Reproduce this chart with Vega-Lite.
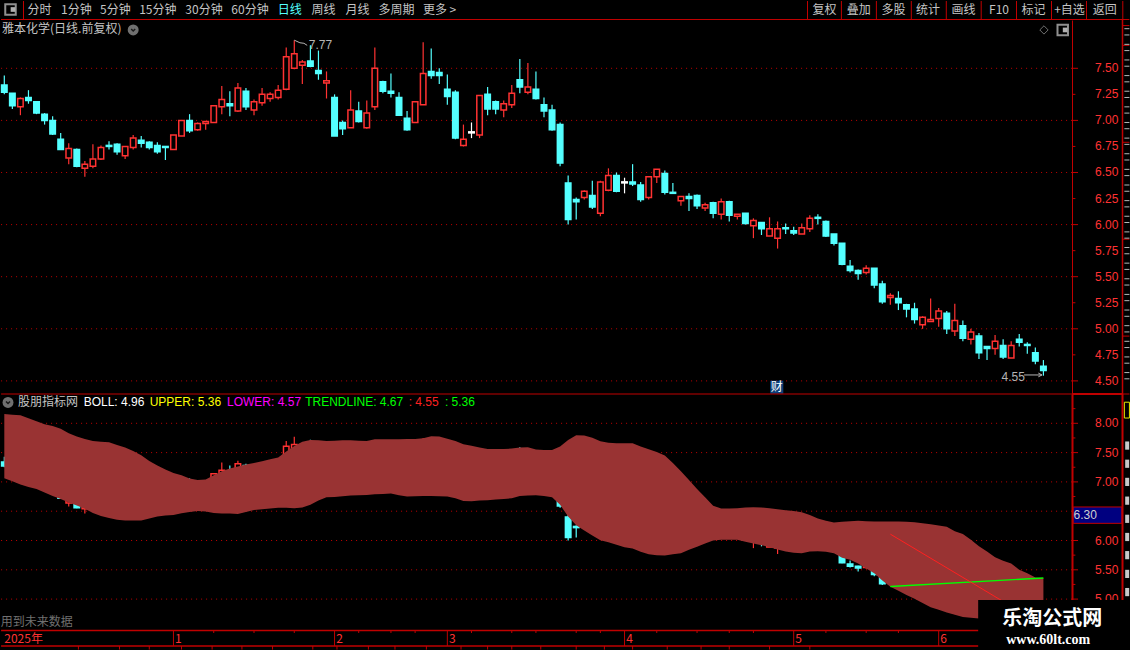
{
  "$schema": "https://vega.github.io/schema/vega-lite/v6.json",
  "background": "#000000",
  "padding": 0,
  "spacing": 0,
  "bounds": "flush",
  "resolve": {"scale": {"color": "independent"}},
  "config": {"view": {"stroke": null}, "font": "Liberation Sans", "concat": {"spacing": 0}},
  "datasets": {
    "candles": [
      {"i":0,"o":7.34,"c":7.27,"h":7.43,"l":7.25,"k":"down"},{"i":1,"o":7.26,"c":7.14,"h":7.26,"l":7.11,"k":"down"},{"i":2,"o":7.13,"c":7.21,"h":7.22,"l":7.05,"k":"up"},{"i":3,"o":7.22,"c":7.19,"h":7.29,"l":7.16,"k":"down"},{"i":4,"o":7.18,"c":7.07,"h":7.18,"l":7.06,"k":"down"},
      {"i":5,"o":7.06,"c":7.0,"h":7.07,"l":6.96,"k":"down"},{"i":6,"o":7.0,"c":6.87,"h":7.04,"l":6.86,"k":"down"},{"i":7,"o":6.82,"c":6.72,"h":6.88,"l":6.72,"k":"down"},{"i":8,"o":6.64,"c":6.73,"h":6.78,"l":6.58,"k":"up"},{"i":9,"o":6.72,"c":6.56,"h":6.73,"l":6.55,"k":"down"},
      {"i":10,"o":6.54,"c":6.58,"h":6.61,"l":6.46,"k":"up"},{"i":11,"o":6.56,"c":6.63,"h":6.77,"l":6.54,"k":"up"},{"i":12,"o":6.63,"c":6.74,"h":6.76,"l":6.62,"k":"up"},{"i":13,"o":6.76,"c":6.75,"h":6.8,"l":6.72,"k":"down"},{"i":14,"o":6.77,"c":6.7,"h":6.78,"l":6.67,"k":"down"},
      {"i":15,"o":6.66,"c":6.75,"h":6.75,"l":6.63,"k":"up"},{"i":16,"o":6.74,"c":6.83,"h":6.86,"l":6.72,"k":"up"},{"i":17,"o":6.81,"c":6.78,"h":6.85,"l":6.74,"k":"down"},{"i":18,"o":6.79,"c":6.74,"h":6.8,"l":6.72,"k":"down"},{"i":19,"o":6.76,"c":6.7,"h":6.79,"l":6.68,"k":"down"},
      {"i":20,"o":6.75,"c":6.74,"h":6.75,"l":6.62,"k":"down"},{"i":21,"o":6.72,"c":6.86,"h":6.86,"l":6.72,"k":"up"},{"i":22,"o":6.85,"c":7.0,"h":7.0,"l":6.85,"k":"up"},{"i":23,"o":7.0,"c":6.9,"h":7.06,"l":6.88,"k":"down"},{"i":24,"o":6.91,"c":6.97,"h":6.98,"l":6.9,"k":"up"},
      {"i":25,"o":6.97,"c":6.99,"h":6.99,"l":6.91,"k":"up"},{"i":26,"o":6.98,"c":7.14,"h":7.14,"l":6.98,"k":"up"},{"i":27,"o":7.13,"c":7.2,"h":7.33,"l":7.06,"k":"up"},{"i":28,"o":7.16,"c":7.14,"h":7.28,"l":7.04,"k":"down"},{"i":29,"o":7.09,"c":7.31,"h":7.36,"l":7.08,"k":"up"},
      {"i":30,"o":7.28,"c":7.13,"h":7.31,"l":7.1,"k":"down"},{"i":31,"o":7.1,"c":7.18,"h":7.2,"l":7.05,"k":"up"},{"i":32,"o":7.17,"c":7.25,"h":7.31,"l":7.14,"k":"up"},{"i":33,"o":7.21,"c":7.25,"h":7.27,"l":7.18,"k":"up"},{"i":34,"o":7.22,"c":7.29,"h":7.34,"l":7.2,"k":"up"},
      {"i":35,"o":7.3,"c":7.61,"h":7.7,"l":7.29,"k":"up"},{"i":36,"o":7.5,"c":7.64,"h":7.77,"l":7.49,"k":"up"},{"i":37,"o":7.53,"c":7.56,"h":7.58,"l":7.35,"k":"up"},{"i":38,"o":7.57,"c":7.52,"h":7.72,"l":7.51,"k":"down"},{"i":39,"o":7.48,"c":7.45,"h":7.67,"l":7.39,"k":"down"},
      {"i":40,"o":7.36,"c":7.38,"h":7.47,"l":7.21,"k":"up"},{"i":41,"o":7.22,"c":6.85,"h":7.25,"l":6.85,"k":"down"},{"i":42,"o":6.98,"c":6.92,"h":7.0,"l":6.86,"k":"down"},{"i":43,"o":6.93,"c":7.1,"h":7.29,"l":6.93,"k":"up"},{"i":44,"o":7.09,"c":6.99,"h":7.18,"l":6.98,"k":"down"},
      {"i":45,"o":6.93,"c":7.07,"h":7.19,"l":6.92,"k":"up"},{"i":46,"o":7.13,"c":7.5,"h":7.7,"l":7.1,"k":"up"},{"i":47,"o":7.37,"c":7.28,"h":7.38,"l":7.26,"k":"down"},{"i":48,"o":7.28,"c":7.26,"h":7.45,"l":7.22,"k":"down"},{"i":49,"o":7.22,"c":7.05,"h":7.27,"l":7.05,"k":"down"},
      {"i":50,"o":7.02,"c":6.91,"h":7.09,"l":6.9,"k":"down"},{"i":51,"o":6.98,"c":7.18,"h":7.18,"l":6.98,"k":"up"},{"i":52,"o":7.15,"c":7.45,"h":7.75,"l":7.15,"k":"up"},{"i":53,"o":7.47,"c":7.43,"h":7.69,"l":7.4,"k":"down"},{"i":54,"o":7.46,"c":7.43,"h":7.5,"l":7.35,"k":"down"},
      {"i":55,"o":7.3,"c":7.23,"h":7.44,"l":7.15,"k":"down"},{"i":56,"o":7.27,"c":6.83,"h":7.29,"l":6.82,"k":"down"},{"i":57,"o":6.76,"c":6.82,"h":6.96,"l":6.75,"k":"up"},{"i":58,"o":6.89,"c":6.88,"h":6.98,"l":6.83,"k":"flat"},{"i":59,"o":6.86,"c":7.24,"h":7.24,"l":6.83,"k":"up"},
      {"i":60,"o":7.25,"c":7.11,"h":7.32,"l":7.05,"k":"down"},{"i":61,"o":7.18,"c":7.11,"h":7.19,"l":7.06,"k":"down"},{"i":62,"o":7.1,"c":7.16,"h":7.19,"l":7.03,"k":"up"},{"i":63,"o":7.15,"c":7.26,"h":7.34,"l":7.12,"k":"up"},{"i":64,"o":7.39,"c":7.32,"h":7.59,"l":7.26,"k":"down"},
      {"i":65,"o":7.27,"c":7.32,"h":7.55,"l":7.25,"k":"up"},{"i":66,"o":7.3,"c":7.21,"h":7.47,"l":7.2,"k":"down"},{"i":67,"o":7.15,"c":7.09,"h":7.22,"l":7.03,"k":"down"},{"i":68,"o":7.1,"c":6.91,"h":7.15,"l":6.9,"k":"down"},{"i":69,"o":6.96,"c":6.59,"h":6.98,"l":6.56,"k":"down"},
      {"i":70,"o":6.4,"c":6.05,"h":6.47,"l":6.0,"k":"down"},{"i":71,"o":6.24,"c":6.22,"h":6.26,"l":6.05,"k":"down"},{"i":72,"o":6.26,"c":6.32,"h":6.33,"l":6.24,"k":"up"},{"i":73,"o":6.28,"c":6.17,"h":6.42,"l":6.15,"k":"down"},{"i":74,"o":6.11,"c":6.41,"h":6.42,"l":6.08,"k":"up"},
      {"i":75,"o":6.33,"c":6.47,"h":6.54,"l":6.32,"k":"up"},{"i":76,"o":6.47,"c":6.32,"h":6.5,"l":6.31,"k":"down"},{"i":77,"o":6.41,"c":6.4,"h":6.45,"l":6.3,"k":"flat"},{"i":78,"o":6.41,"c":6.39,"h":6.58,"l":6.37,"k":"down"},{"i":79,"o":6.38,"c":6.24,"h":6.41,"l":6.22,"k":"down"},
      {"i":80,"o":6.26,"c":6.46,"h":6.46,"l":6.24,"k":"up"},{"i":81,"o":6.46,"c":6.53,"h":6.53,"l":6.4,"k":"up"},{"i":82,"o":6.49,"c":6.31,"h":6.52,"l":6.29,"k":"down"},{"i":83,"o":6.31,"c":6.3,"h":6.4,"l":6.3,"k":"down"},{"i":84,"o":6.23,"c":6.27,"h":6.27,"l":6.18,"k":"up"},
      {"i":85,"o":6.27,"c":6.25,"h":6.3,"l":6.13,"k":"down"},{"i":86,"o":6.28,"c":6.18,"h":6.29,"l":6.15,"k":"down"},{"i":87,"o":6.16,"c":6.19,"h":6.21,"l":6.13,"k":"up"},{"i":88,"o":6.21,"c":6.11,"h":6.22,"l":6.06,"k":"down"},{"i":89,"o":6.1,"c":6.22,"h":6.25,"l":6.05,"k":"up"},
      {"i":90,"o":6.22,"c":6.09,"h":6.23,"l":6.03,"k":"down"},{"i":91,"o":6.08,"c":6.1,"h":6.1,"l":6.05,"k":"up"},{"i":92,"o":6.11,"c":6.01,"h":6.11,"l":6.0,"k":"down"},{"i":93,"o":5.99,"c":6.04,"h":6.06,"l":5.87,"k":"up"},{"i":94,"o":6.02,"c":5.96,"h":6.02,"l":5.9,"k":"down"},
      {"i":95,"o":5.89,"c":5.96,"h":6.07,"l":5.89,"k":"up"},{"i":96,"o":5.87,"c":5.96,"h":6.03,"l":5.77,"k":"up"},{"i":97,"o":5.97,"c":5.96,"h":6.01,"l":5.91,"k":"down"},{"i":98,"o":5.94,"c":5.92,"h":5.98,"l":5.9,"k":"down"},{"i":99,"o":5.91,"c":5.97,"h":6.01,"l":5.91,"k":"up"},
      {"i":100,"o":5.96,"c":6.06,"h":6.09,"l":5.93,"k":"up"},{"i":101,"o":6.07,"c":6.06,"h":6.1,"l":6.0,"k":"down"},{"i":102,"o":6.03,"c":5.89,"h":6.04,"l":5.88,"k":"down"},{"i":103,"o":5.91,"c":5.82,"h":5.91,"l":5.8,"k":"down"},{"i":104,"o":5.82,"c":5.62,"h":5.82,"l":5.61,"k":"down"},
      {"i":105,"o":5.6,"c":5.56,"h":5.66,"l":5.54,"k":"down"},{"i":106,"o":5.56,"c":5.53,"h":5.57,"l":5.47,"k":"down"},{"i":107,"o":5.54,"c":5.58,"h":5.61,"l":5.52,"k":"up"},{"i":108,"o":5.58,"c":5.42,"h":5.58,"l":5.39,"k":"down"},{"i":109,"o":5.43,"c":5.26,"h":5.46,"l":5.24,"k":"down"},
      {"i":110,"o":5.3,"c":5.32,"h":5.34,"l":5.23,"k":"up"},{"i":111,"o":5.29,"c":5.25,"h":5.36,"l":5.18,"k":"down"},{"i":112,"o":5.23,"c":5.19,"h":5.24,"l":5.11,"k":"down"},{"i":113,"o":5.19,"c":5.09,"h":5.25,"l":5.05,"k":"down"},{"i":114,"o":5.04,"c":5.11,"h":5.12,"l":5.0,"k":"up"},
      {"i":115,"o":5.07,"c":5.09,"h":5.29,"l":5.07,"k":"up"},{"i":116,"o":5.1,"c":5.17,"h":5.2,"l":5.02,"k":"up"},{"i":117,"o":5.15,"c":5.0,"h":5.17,"l":4.95,"k":"down"},{"i":118,"o":4.98,"c":5.08,"h":5.24,"l":4.93,"k":"up"},{"i":119,"o":5.03,"c":4.91,"h":5.08,"l":4.88,"k":"down"},
      {"i":120,"o":4.9,"c":4.97,"h":5.0,"l":4.85,"k":"up"},{"i":121,"o":4.93,"c":4.77,"h":4.96,"l":4.71,"k":"down"},{"i":122,"o":4.83,"c":4.81,"h":4.83,"l":4.7,"k":"down"},{"i":123,"o":4.81,"c":4.88,"h":4.94,"l":4.75,"k":"up"},{"i":124,"o":4.84,"c":4.73,"h":4.9,"l":4.71,"k":"down"},
      {"i":125,"o":4.72,"c":4.84,"h":4.88,"l":4.72,"k":"up"},{"i":126,"o":4.9,"c":4.87,"h":4.95,"l":4.83,"k":"down"},{"i":127,"o":4.85,"c":4.84,"h":4.87,"l":4.76,"k":"down"},{"i":128,"o":4.77,"c":4.69,"h":4.82,"l":4.66,"k":"down"},{"i":129,"o":4.64,"c":4.6,"h":4.7,"l":4.55,"k":"down"}
    ],
    "boll": [
      {"i":0,"u":8.159,"d":7.062},{"i":1,"u":8.148,"d":7.011},{"i":2,"u":8.136,"d":6.954},{"i":3,"u":8.085,"d":6.915},{"i":4,"u":8.034,"d":6.88},{"i":5,"u":7.983,"d":6.818},{"i":6,"u":7.954,"d":6.761},{"i":7,"u":7.909,"d":6.71},{"i":8,"u":7.83,"d":6.648},{"i":9,"u":7.773,"d":6.596},
      {"i":10,"u":7.733,"d":6.54},{"i":11,"u":7.699,"d":6.471},{"i":12,"u":7.687,"d":6.42},{"i":13,"u":7.676,"d":6.386},{"i":14,"u":7.63,"d":6.352},{"i":15,"u":7.585,"d":6.341},{"i":16,"u":7.528,"d":6.341},{"i":17,"u":7.454,"d":6.341},{"i":18,"u":7.358,"d":6.375},{"i":19,"u":7.278,"d":6.409},
      {"i":20,"u":7.21,"d":6.426},{"i":21,"u":7.153,"d":6.437},{"i":22,"u":7.113,"d":6.466},{"i":23,"u":7.057,"d":6.488},{"i":24,"u":7.034,"d":6.505},{"i":25,"u":7.04,"d":6.494},{"i":26,"u":7.113,"d":6.471},{"i":27,"u":7.182,"d":6.46},{"i":28,"u":7.227,"d":6.46},{"i":29,"u":7.261,"d":6.454},
      {"i":30,"u":7.295,"d":6.488},{"i":31,"u":7.324,"d":6.522},{"i":32,"u":7.352,"d":6.534},{"i":33,"u":7.386,"d":6.545},{"i":34,"u":7.415,"d":6.557},{"i":35,"u":7.517,"d":6.557},{"i":36,"u":7.613,"d":6.551},{"i":37,"u":7.687,"d":6.562},{"i":38,"u":7.716,"d":6.608},{"i":39,"u":7.71,"d":6.682},
      {"i":40,"u":7.699,"d":6.738},{"i":41,"u":7.704,"d":6.744},{"i":42,"u":7.71,"d":6.755},{"i":43,"u":7.71,"d":6.767},{"i":44,"u":7.704,"d":6.772},{"i":45,"u":7.699,"d":6.778},{"i":46,"u":7.727,"d":6.79},{"i":47,"u":7.727,"d":6.795},{"i":48,"u":7.727,"d":6.801},{"i":49,"u":7.727,"d":6.772},
      {"i":50,"u":7.733,"d":6.75},{"i":51,"u":7.733,"d":6.755},{"i":52,"u":7.744,"d":6.761},{"i":53,"u":7.778,"d":6.761},{"i":54,"u":7.773,"d":6.755},{"i":55,"u":7.738,"d":6.75},{"i":56,"u":7.699,"d":6.721},{"i":57,"u":7.642,"d":6.676},{"i":58,"u":7.619,"d":6.67},{"i":59,"u":7.585,"d":6.682},
      {"i":60,"u":7.562,"d":6.687},{"i":61,"u":7.562,"d":6.699},{"i":62,"u":7.562,"d":6.71},{"i":63,"u":7.568,"d":6.721},{"i":64,"u":7.585,"d":6.761},{"i":65,"u":7.591,"d":6.767},{"i":66,"u":7.551,"d":6.772},{"i":67,"u":7.545,"d":6.761},{"i":68,"u":7.545,"d":6.738},{"i":69,"u":7.602,"d":6.608},
      {"i":70,"u":7.716,"d":6.409},{"i":71,"u":7.795,"d":6.261},{"i":72,"u":7.79,"d":6.17},{"i":73,"u":7.755,"d":6.085},{"i":74,"u":7.693,"d":6.005},{"i":75,"u":7.67,"d":5.971},{"i":76,"u":7.659,"d":5.926},{"i":77,"u":7.659,"d":5.886},{"i":78,"u":7.659,"d":5.863},{"i":79,"u":7.602,"d":5.807},
      {"i":80,"u":7.557,"d":5.767},{"i":81,"u":7.511,"d":5.75},{"i":82,"u":7.449,"d":5.744},{"i":83,"u":7.324,"d":5.767},{"i":84,"u":7.182,"d":5.784},{"i":85,"u":7.034,"d":5.841},{"i":86,"u":6.88,"d":5.892},{"i":87,"u":6.738,"d":5.949},{"i":88,"u":6.591,"d":6.0},{"i":89,"u":6.545,"d":6.011},
      {"i":90,"u":6.545,"d":6.011},{"i":91,"u":6.551,"d":6.011},{"i":92,"u":6.562,"d":5.977},{"i":93,"u":6.568,"d":5.949},{"i":94,"u":6.562,"d":5.92},{"i":95,"u":6.551,"d":5.886},{"i":96,"u":6.534,"d":5.846},{"i":97,"u":6.517,"d":5.812},{"i":98,"u":6.505,"d":5.789},{"i":99,"u":6.483,"d":5.784},
      {"i":100,"u":6.437,"d":5.812},{"i":101,"u":6.375,"d":5.818},{"i":102,"u":6.335,"d":5.807},{"i":103,"u":6.307,"d":5.784},{"i":104,"u":6.318,"d":5.704},{"i":105,"u":6.33,"d":5.67},{"i":106,"u":6.335,"d":5.608},{"i":107,"u":6.33,"d":5.522},{"i":108,"u":6.324,"d":5.443},{"i":109,"u":6.324,"d":5.318},
      {"i":110,"u":6.324,"d":5.21},{"i":111,"u":6.324,"d":5.142},{"i":112,"u":6.318,"d":5.068},{"i":113,"u":6.312,"d":5.005},{"i":114,"u":6.295,"d":4.932},{"i":115,"u":6.278,"d":4.863},{"i":116,"u":6.255,"d":4.818},{"i":117,"u":6.233,"d":4.772},{"i":118,"u":6.159,"d":4.733},{"i":119,"u":6.113,"d":4.693},
      {"i":120,"u":6.011,"d":4.682},{"i":121,"u":5.903,"d":4.67},{"i":122,"u":5.812,"d":4.648},{"i":123,"u":5.716,"d":4.625},{"i":124,"u":5.653,"d":4.608},{"i":125,"u":5.608,"d":4.596},{"i":126,"u":5.5,"d":4.591},{"i":127,"u":5.443,"d":4.585},{"i":128,"u":5.369,"d":4.574},{"i":129,"u":5.358,"d":4.568}
    ],
    "trend": [
      {"i":110,"up":5.215,"down":6.108},
      {"i":129,"up":5.36,"down":4.55}
    ],
    "legend": [
      {"i":9.85,"t":"BOLL: 4.96","s":"boll"},
      {"i":18.05,"t":"UPPER: 5.36","s":"upper"},
      {"i":27.65,"t":"LOWER: 4.57","s":"lower"},
      {"i":37.35,"t":"TRENDLINE: 4.67","s":"trend"},
      {"i":50.2,"t":": 4.55","s":"low"},
      {"i":54.7,"t":": 5.36","s":"trend"}
    ],
    "gridTop": [
      {"i":-0.4,"i2":132.55,"p":7.5},{"i":-0.4,"i2":132.55,"p":7.0},{"i":-0.4,"i2":132.55,"p":6.5},{"i":-0.4,"i2":132.55,"p":6.0},{"i":-0.4,"i2":132.55,"p":5.5},{"i":-0.4,"i2":132.55,"p":5.0},{"i":-0.4,"i2":132.55,"p":4.5}
    ],
    "ticksTop": [
      {"i":132.55,"i2":133.3,"p":7.5},{"i":132.55,"i2":132.97,"p":7.25},{"i":132.55,"i2":133.3,"p":7.0},{"i":132.55,"i2":132.97,"p":6.75},{"i":132.55,"i2":133.3,"p":6.5},{"i":132.55,"i2":132.97,"p":6.25},{"i":132.55,"i2":133.3,"p":6.0},
      {"i":132.55,"i2":132.97,"p":5.75},{"i":132.55,"i2":133.3,"p":5.5},{"i":132.55,"i2":132.97,"p":5.25},{"i":132.55,"i2":133.3,"p":5.0},{"i":132.55,"i2":132.97,"p":4.75},{"i":132.55,"i2":133.3,"p":4.5}
    ],
    "labelsTop": [
      {"i":135.41,"p":7.5},{"i":135.41,"p":7.25},{"i":135.41,"p":7.0},{"i":135.41,"p":6.75},{"i":135.41,"p":6.5},{"i":135.41,"p":6.25},{"i":135.41,"p":6.0},
      {"i":135.41,"p":5.75},{"i":135.41,"p":5.5},{"i":135.41,"p":5.25},{"i":135.41,"p":5.0},{"i":135.41,"p":4.75},{"i":135.41,"p":4.5}
    ],
    "gridLow": [
      {"i":-0.4,"i2":132.55,"p":8.0},{"i":-0.4,"i2":132.55,"p":7.5},{"i":-0.4,"i2":132.55,"p":7.0},{"i":-0.4,"i2":132.55,"p":6.5},{"i":-0.4,"i2":132.55,"p":6.0},{"i":-0.4,"i2":132.55,"p":5.5},{"i":-0.4,"i2":132.55,"p":5.0}
    ],
    "ticksLow": [
      {"i":132.55,"i2":132.97,"p":8.25},{"i":132.55,"i2":133.3,"p":8.0},{"i":132.55,"i2":132.97,"p":7.75},{"i":132.55,"i2":133.3,"p":7.5},{"i":132.55,"i2":132.97,"p":7.25},{"i":132.55,"i2":133.3,"p":7.0},{"i":132.55,"i2":132.97,"p":6.75},
      {"i":132.55,"i2":133.3,"p":6.0},{"i":132.55,"i2":132.97,"p":5.75},{"i":132.55,"i2":133.3,"p":5.5},{"i":132.55,"i2":132.97,"p":5.25},{"i":132.55,"i2":133.3,"p":5.0}
    ],
    "labelsLow": [
      {"i":135.41,"p":8.0},{"i":135.41,"p":7.5},{"i":135.41,"p":7.0},{"i":135.41,"p":6.0},{"i":135.41,"p":5.5},{"i":135.41,"p":5.0}
    ],
    "sideTop": [
      {"i":139.05,"i2":139.68,"p":7.88},{"i":139.05,"i2":139.68,"p":7.82},{"i":139.05,"i2":139.68,"p":7.73},{"i":139.05,"i2":139.68,"p":7.67},{"i":139.05,"i2":139.68,"p":7.58},{"i":139.05,"i2":139.68,"p":7.52},{"i":139.05,"i2":139.68,"p":7.43},{"i":139.05,"i2":139.68,"p":7.37},
      {"i":139.05,"i2":139.68,"p":7.28},{"i":139.05,"i2":139.68,"p":7.22},{"i":139.05,"i2":139.68,"p":7.13},{"i":139.05,"i2":139.68,"p":7.07},{"i":139.05,"i2":139.68,"p":6.98},{"i":139.05,"i2":139.68,"p":6.92},{"i":139.05,"i2":139.68,"p":6.83},{"i":139.05,"i2":139.68,"p":6.77},
      {"i":139.05,"i2":139.68,"p":6.68},{"i":139.05,"i2":139.68,"p":6.62},{"i":139.05,"i2":139.68,"p":6.53},{"i":139.05,"i2":139.68,"p":6.47},{"i":139.05,"i2":139.68,"p":6.38},{"i":139.05,"i2":139.68,"p":6.32},{"i":139.05,"i2":139.68,"p":6.23},{"i":139.05,"i2":139.68,"p":6.17},
      {"i":139.05,"i2":139.68,"p":6.08},{"i":139.05,"i2":139.68,"p":6.02},{"i":139.05,"i2":139.68,"p":5.93},{"i":139.05,"i2":139.68,"p":5.87},{"i":139.05,"i2":139.68,"p":5.78},{"i":139.05,"i2":139.68,"p":5.72},{"i":139.05,"i2":139.68,"p":5.63},{"i":139.05,"i2":139.68,"p":5.57},
      {"i":139.05,"i2":139.68,"p":5.48},{"i":139.05,"i2":139.68,"p":5.42},{"i":139.05,"i2":139.68,"p":5.33},{"i":139.05,"i2":139.68,"p":5.27},{"i":139.05,"i2":139.68,"p":5.18},{"i":139.05,"i2":139.68,"p":5.12},{"i":139.05,"i2":139.68,"p":5.03},{"i":139.05,"i2":139.68,"p":4.97},
      {"i":139.05,"i2":139.68,"p":4.88},{"i":139.05,"i2":139.68,"p":4.82},{"i":139.05,"i2":139.68,"p":4.73},{"i":139.05,"i2":139.68,"p":4.67},{"i":139.05,"i2":139.68,"p":4.58},{"i":139.05,"i2":139.68,"p":4.52}
    ]
  },
  "vconcat": [
    {
      "width": 1130,
      "height": 20,
      "encoding": {
        "x": {"field": "pos", "type": "quantitative", "scale": {"domain": [0, 1130]}, "axis": null},
        "y": {"field": "v", "type": "quantitative", "scale": {"domain": [20, 0]}, "axis": null}
      },
      "layer": [
        {
          "data": {"values": [{"pos": 1, "pos2": 1129.4, "v": 19.5}]},
          "mark": {"type": "rule", "color": "#c00000", "strokeWidth": 1},
          "encoding": {"x2": {"field": "pos2"}}
        },
        {
          "data": {"values": [{"pos": 23.5, "v": 1, "v2": 19.5}, {"pos": 807.5, "v": 1, "v2": 19.5}, {"pos": 841.4, "v": 1, "v2": 19.5}, {"pos": 876.4, "v": 1, "v2": 19.5}, {"pos": 911.3, "v": 1, "v2": 19.5}, {"pos": 946.3, "v": 1, "v2": 19.5}, {"pos": 981.2, "v": 1, "v2": 19.5}, {"pos": 1016.5, "v": 1, "v2": 19.5}, {"pos": 1051.5, "v": 1, "v2": 19.5}, {"pos": 1086.5, "v": 1, "v2": 19.5}, {"pos": 1122.8, "v": 1, "v2": 19.5}]},
          "mark": {"type": "rule", "color": "#c00000", "strokeWidth": 1},
          "encoding": {"y2": {"field": "v2"}}
        },
        {
          "data": {"values": [{"pos": 10.5, "v": 9.5}]},
          "mark": {"type": "point", "shape": "square", "size": 110, "filled": false, "stroke": "#909090", "strokeWidth": 2, "opacity": 1}
        },
        {
          "data": {"values": [{"pos": 13, "v": 9.5}]},
          "mark": {"type": "point", "shape": "square", "size": 22, "filled": true, "color": "#b0b0b0", "opacity": 1}
        },
        {
          "data": {"values": [
            {"pos": 39.6, "v": 9.5, "t": "分时", "on": "n"}, {"pos": 76.4, "v": 9.5, "t": "1分钟", "on": "n"}, {"pos": 115.3, "v": 9.5, "t": "5分钟", "on": "n"},
            {"pos": 157.8, "v": 9.5, "t": "15分钟", "on": "n"}, {"pos": 204, "v": 9.5, "t": "30分钟", "on": "n"}, {"pos": 250, "v": 9.5, "t": "60分钟", "on": "n"},
            {"pos": 289.7, "v": 9.5, "t": "日线", "on": "y"}, {"pos": 323.6, "v": 9.5, "t": "周线", "on": "n"}, {"pos": 357.5, "v": 9.5, "t": "月线", "on": "n"},
            {"pos": 396.4, "v": 9.5, "t": "多周期", "on": "n"}, {"pos": 439.6, "v": 9.5, "t": "更多 >", "on": "n"},
            {"pos": 824.5, "v": 9.5, "t": "复权", "on": "n"}, {"pos": 858.7, "v": 9.5, "t": "叠加", "on": "n"}, {"pos": 893.6, "v": 9.5, "t": "多股", "on": "n"},
            {"pos": 928, "v": 9.5, "t": "统计", "on": "n"}, {"pos": 963.6, "v": 9.5, "t": "画线", "on": "n"}, {"pos": 999, "v": 9.5, "t": "F10", "on": "n"},
            {"pos": 1033.5, "v": 9.5, "t": "标记", "on": "n"}, {"pos": 1069.5, "v": 9.5, "t": "+自选", "on": "n"}, {"pos": 1104.8, "v": 9.5, "t": "返回", "on": "n"}
          ]},
          "mark": {"type": "text", "font": "Noto Sans CJK SC", "fontSize": 12},
          "encoding": {
            "text": {"field": "t"},
            "color": {"field": "on", "type": "nominal", "scale": {"domain": ["n", "y"], "range": ["#c4c4c4", "#54ffff"]}, "legend": null}
          }
        }
      ]
    },
    {
      "width": 1130,
      "height": 374,
      "encoding": {
        "x": {"field": "i", "type": "quantitative", "scale": {"domain": [-0.534, 139.75], "padding": 0}, "axis": null}
      },
      "layer": [
        {
          "data": {"name": "gridTop"},
          "mark": {"type": "rule", "color": "#c00000", "strokeWidth": 1, "strokeDash": [1, 4]},
          "encoding": {
            "x2": {"field": "i2"},
            "y": {
              "field": "p", "type": "quantitative", "scale": {"domain": [4.3743, 7.9635]},
              "axis": {
                "orient": "right", "offset": -58, "title": null, "grid": false,
                "labels": false, "ticks": false, "tickSize": 0,
                "domainColor": "#c00000", "domainWidth": 1
              }
            }
          }
        },
        {
          "data": {"name": "ticksTop"},
          "mark": {"type": "rule", "color": "#c00000", "strokeWidth": 1},
          "encoding": {
            "x2": {"field": "i2"},
            "y": {"field": "p", "type": "quantitative", "scale": {"domain": [4.3743, 7.9635]}}
          }
        },
        {
          "data": {"name": "labelsTop"},
          "mark": {"type": "text", "align": "left", "fontSize": 12, "color": "#ff3232"},
          "encoding": {
            "y": {"field": "p", "type": "quantitative", "scale": {"domain": [4.3743, 7.9635]}},
            "text": {"field": "p", "type": "quantitative", "format": ".2f"}
          }
        },
        {
          "data": {"name": "candles"},
          "mark": {"type": "rule", "strokeWidth": 1.2},
          "encoding": {
            "y": {"field": "l", "type": "quantitative", "scale": {"domain": [4.3743, 7.9635]}},
            "y2": {"field": "h"},
            "stroke": {"field": "k", "type": "nominal", "scale": {"domain": ["up", "down", "flat"], "range": ["#ff3232", "#54ffff", "#ffffff"]}, "legend": null}
          }
        },
        {
          "data": {"name": "candles"},
          "mark": {"type": "bar", "size": 5.5, "strokeWidth": 1.5},
          "encoding": {
            "y": {"field": "o", "type": "quantitative", "scale": {"domain": [4.3743, 7.9635]}},
            "y2": {"field": "c"},
            "stroke": {"field": "k", "type": "nominal", "scale": {"domain": ["up", "down", "flat"], "range": ["#ff3232", "#54ffff", "#ffffff"]}, "legend": null},
            "fill": {"field": "k", "type": "nominal", "scale": {"domain": ["up", "down", "flat"], "range": ["#000000", "#54ffff", "#ffffff"]}, "legend": null}
          }
        },
        {
          "data": {"values": [{"i": 36.0, "p": 7.77}, {"i": 36.7, "p": 7.745}, {"i": 37.2, "p": 7.74}, {"i": 37.6, "p": 7.72}]},
          "mark": {"type": "line", "color": "#b4b4b4", "strokeWidth": 1},
          "encoding": {"y": {"field": "p", "type": "quantitative", "scale": {"domain": [4.3743, 7.9635]}}}
        },
        {
          "data": {"values": [{"i": 126.6, "p": 4.557}, {"i": 128.8, "p": 4.557}]},
          "mark": {"type": "line", "color": "#b4b4b4", "strokeWidth": 1},
          "encoding": {"y": {"field": "p", "type": "quantitative", "scale": {"domain": [4.3743, 7.9635]}}}
        },
        {
          "data": {"values": [{"i": 128.6, "p": 4.557}]},
          "mark": {"type": "point", "shape": "M-1,-1L1,0L-1,1", "size": 14, "filled": false, "stroke": "#b4b4b4", "strokeWidth": 1, "opacity": 1},
          "encoding": {"y": {"field": "p", "type": "quantitative", "scale": {"domain": [4.3743, 7.9635]}}}
        },
        {
          "data": {"values": [{"i": 37.8, "p": 7.725, "t": "7.77"}, {"i": 123.8, "p": 4.54, "t": "4.55"}]},
          "mark": {"type": "text", "align": "left", "fontSize": 12, "color": "#b4b4b4"},
          "encoding": {
            "y": {"field": "p", "type": "quantitative", "scale": {"domain": [4.3743, 7.9635]}},
            "text": {"field": "t"}
          }
        },
        {
          "data": {"values": [{"i": -0.285, "p": 7.877, "t": "雅本化学(日线.前复权)"}]},
          "mark": {"type": "text", "align": "left", "font": "Noto Sans CJK SC", "fontSize": 12, "color": "#c4c4c4"},
          "encoding": {
            "y": {"field": "p", "type": "quantitative", "scale": {"domain": [4.3743, 7.9635]}},
            "text": {"field": "t"}
          }
        },
        {
          "data": {"values": [{"i": 16, "p": 7.868}]},
          "mark": {"type": "point", "shape": "circle", "size": 120, "filled": true, "color": "#707070", "opacity": 1},
          "encoding": {"y": {"field": "p", "type": "quantitative", "scale": {"domain": [4.3743, 7.9635]}}}
        },
        {
          "data": {"values": [{"i": 16, "p": 7.868}]},
          "mark": {"type": "point", "shape": "M-1,-0.5L0,0.5L1,-0.5", "size": 16, "filled": false, "stroke": "#1a1a1a", "strokeWidth": 1.5, "opacity": 1},
          "encoding": {"y": {"field": "p", "type": "quantitative", "scale": {"domain": [4.3743, 7.9635]}}}
        },
        {
          "data": {"values": [{"i": 129.07, "p": 7.868}]},
          "mark": {"type": "point", "shape": "diamond", "size": 70, "filled": false, "stroke": "#707070", "strokeWidth": 1, "opacity": 1},
          "encoding": {"y": {"field": "p", "type": "quantitative", "scale": {"domain": [4.3743, 7.9635]}}}
        },
        {
          "data": {"values": [{"i": 131.4, "p": 7.868}]},
          "mark": {"type": "point", "shape": "square", "size": 110, "filled": false, "stroke": "#909090", "strokeWidth": 2, "opacity": 1},
          "encoding": {"y": {"field": "p", "type": "quantitative", "scale": {"domain": [4.3743, 7.9635]}}}
        },
        {
          "data": {"values": [{"i": 131.7, "p": 7.868}]},
          "mark": {"type": "point", "shape": "square", "size": 22, "filled": true, "color": "#b0b0b0", "opacity": 1},
          "encoding": {"y": {"field": "p", "type": "quantitative", "scale": {"domain": [4.3743, 7.9635]}}}
        },
        {
          "data": {"values": [{"i": 95.9, "p": 4.44}]},
          "mark": {"type": "point", "shape": "square", "size": 170, "filled": true, "color": "#0d3f7a", "opacity": 1},
          "encoding": {"y": {"field": "p", "type": "quantitative", "scale": {"domain": [4.3743, 7.9635]}}}
        },
        {
          "data": {"values": [{"i": 95.9, "p": 4.44, "t": "财"}]},
          "mark": {"type": "text", "font": "Noto Sans CJK SC", "fontSize": 12, "color": "#ffffff"},
          "encoding": {
            "y": {"field": "p", "type": "quantitative", "scale": {"domain": [4.3743, 7.9635]}},
            "text": {"field": "t"}
          }
        },
        {
          "data": {"values": [{"i": -0.4, "i2": 139.68, "p": 4.3743}, {"i": 138.82, "i2": 139.68, "p": 7.91}, {"i": 138.82, "i2": 139.68, "p": 7.72}, {"i": 138.82, "i2": 139.68, "p": 6.79}, {"i": 138.82, "i2": 139.68, "p": 5.86}, {"i": 138.82, "i2": 139.68, "p": 4.93}]},
          "mark": {"type": "rule", "color": "#c00000", "strokeWidth": 1},
          "encoding": {
            "x2": {"field": "i2"},
            "y": {"field": "p", "type": "quantitative", "scale": {"domain": [4.3743, 7.9635]}}
          }
        },
        {
          "data": {"values": [{"i": 138.82, "p": 4.3743, "p2": 7.9635}]},
          "mark": {"type": "rule", "color": "#c00000", "strokeWidth": 1.5},
          "encoding": {
            "y": {"field": "p", "type": "quantitative", "scale": {"domain": [4.3743, 7.9635]}},
            "y2": {"field": "p2"}
          }
        },
        {
          "data": {"name": "sideTop"},
          "mark": {"type": "rule", "color": "#b8b8b8", "strokeWidth": 1},
          "encoding": {
            "x2": {"field": "i2"},
            "y": {"field": "p", "type": "quantitative", "scale": {"domain": [4.3743, 7.9635]}}
          }
        }
      ]
    },
    {
      "width": 1130,
      "height": 236,
      "encoding": {
        "x": {"field": "i", "type": "quantitative", "scale": {"domain": [-0.534, 139.75], "padding": 0}, "axis": null}
      },
      "layer": [
        {
          "data": {"name": "gridLow"},
          "mark": {"type": "rule", "color": "#c00000", "strokeWidth": 1, "strokeDash": [1, 4]},
          "encoding": {
            "x2": {"field": "i2"},
            "y": {
              "field": "p", "type": "quantitative", "scale": {"domain": [4.4727, 8.5]},
              "axis": {
                "orient": "right", "offset": -58, "title": null, "grid": false,
                "labels": false, "ticks": false, "tickSize": 0,
                "domainColor": "#c00000", "domainWidth": 2
              }
            }
          }
        },
        {
          "data": {"name": "ticksLow"},
          "mark": {"type": "rule", "color": "#c00000", "strokeWidth": 1},
          "encoding": {
            "x2": {"field": "i2"},
            "y": {"field": "p", "type": "quantitative", "scale": {"domain": [4.4727, 8.5]}}
          }
        },
        {
          "data": {"name": "labelsLow"},
          "mark": {"type": "text", "align": "left", "fontSize": 12, "color": "#ff3232"},
          "encoding": {
            "y": {"field": "p", "type": "quantitative", "scale": {"domain": [4.4727, 8.5]}},
            "text": {"field": "p", "type": "quantitative", "format": ".2f"}
          }
        },
        {
          "data": {"name": "candles"},
          "mark": {"type": "rule", "strokeWidth": 1.2},
          "encoding": {
            "y": {"field": "l", "type": "quantitative", "scale": {"domain": [4.4727, 8.5]}},
            "y2": {"field": "h"},
            "stroke": {"field": "k", "type": "nominal", "scale": {"domain": ["up", "down", "flat"], "range": ["#ff3232", "#54ffff", "#ffffff"]}, "legend": null}
          }
        },
        {
          "data": {"name": "candles"},
          "mark": {"type": "bar", "size": 5.5, "strokeWidth": 1.5},
          "encoding": {
            "y": {"field": "o", "type": "quantitative", "scale": {"domain": [4.4727, 8.5]}},
            "y2": {"field": "c"},
            "stroke": {"field": "k", "type": "nominal", "scale": {"domain": ["up", "down", "flat"], "range": ["#ff3232", "#54ffff", "#ffffff"]}, "legend": null},
            "fill": {"field": "k", "type": "nominal", "scale": {"domain": ["up", "down", "flat"], "range": ["#000000", "#54ffff", "#ffffff"]}, "legend": null}
          }
        },
        {
          "data": {"name": "boll"},
          "mark": {"type": "area", "color": "#993333", "opacity": 1},
          "encoding": {
            "y": {"field": "u", "type": "quantitative", "scale": {"domain": [4.4727, 8.5]}},
            "y2": {"field": "d"}
          }
        },
        {
          "data": {"name": "trend"},
          "mark": {"type": "line", "color": "#00ff00", "strokeWidth": 1.3},
          "encoding": {"y": {"field": "up", "type": "quantitative", "scale": {"domain": [4.4727, 8.5]}}}
        },
        {
          "data": {"name": "trend"},
          "mark": {"type": "line", "color": "#ff2020", "strokeWidth": 1},
          "encoding": {"y": {"field": "down", "type": "quantitative", "scale": {"domain": [4.4727, 8.5]}}}
        },
        {
          "data": {"values": [{"i": 0.46, "p": 8.355}]},
          "mark": {"type": "point", "shape": "circle", "size": 120, "filled": true, "color": "#707070", "opacity": 1},
          "encoding": {"y": {"field": "p", "type": "quantitative", "scale": {"domain": [4.4727, 8.5]}}}
        },
        {
          "data": {"values": [{"i": 0.46, "p": 8.355}]},
          "mark": {"type": "point", "shape": "M-1,-0.5L0,0.5L1,-0.5", "size": 16, "filled": false, "stroke": "#1a1a1a", "strokeWidth": 1.5, "opacity": 1},
          "encoding": {"y": {"field": "p", "type": "quantitative", "scale": {"domain": [4.4727, 8.5]}}}
        },
        {
          "data": {"values": [{"i": 1.7, "p": 8.355, "t": "股朋指标网"}]},
          "mark": {"type": "text", "align": "left", "font": "Noto Sans CJK SC", "fontSize": 12, "color": "#c4c4c4"},
          "encoding": {
            "y": {"field": "p", "type": "quantitative", "scale": {"domain": [4.4727, 8.5]}},
            "text": {"field": "t"}
          }
        },
        {
          "data": {"name": "legend"},
          "mark": {"type": "text", "align": "left", "fontSize": 12},
          "encoding": {
            "y": {"datum": 8.355, "type": "quantitative", "scale": {"domain": [4.4727, 8.5]}},
            "text": {"field": "t"},
            "color": {"field": "s", "type": "nominal", "scale": {"domain": ["boll", "upper", "lower", "trend", "low"], "range": ["#ffffff", "#ffff00", "#ff00ff", "#00ff00", "#ff2020"]}, "legend": null}
          }
        },
        {
          "data": {"values": [{"i": -0.45, "p": 4.61, "t": "用到未来数据"}]},
          "mark": {"type": "text", "align": "left", "font": "Noto Sans CJK SC", "fontSize": 12, "color": "#707070"},
          "encoding": {
            "y": {"field": "p", "type": "quantitative", "scale": {"domain": [4.4727, 8.5]}},
            "text": {"field": "t"}
          }
        },
        {
          "data": {"values": [{"i": 132.7, "i2": 138.75, "top": 6.572, "bottom": 6.293}]},
          "mark": {"type": "rect", "fill": "#000080", "stroke": "#c00000", "strokeWidth": 1},
          "encoding": {
            "x2": {"field": "i2"},
            "y": {"field": "top", "type": "quantitative", "scale": {"domain": [4.4727, 8.5]}},
            "y2": {"field": "bottom"}
          }
        },
        {
          "data": {"values": [{"i": 132.75, "p": 6.43, "t": "6.30"}]},
          "mark": {"type": "text", "align": "left", "fontSize": 12, "color": "#d0d0d0"},
          "encoding": {
            "y": {"field": "p", "type": "quantitative", "scale": {"domain": [4.4727, 8.5]}},
            "text": {"field": "t"}
          }
        },
        {
          "data": {"values": [{"i": 132.55, "i2": 138.82, "p": 8.5}]},
          "mark": {"type": "rule", "color": "#c00000", "strokeWidth": 2},
          "encoding": {
            "x2": {"field": "i2"},
            "y": {"field": "p", "type": "quantitative", "scale": {"domain": [4.4727, 8.5]}}
          }
        },
        {
          "data": {"values": [{"i": 138.82, "p": 4.4727, "p2": 8.5}]},
          "mark": {"type": "rule", "color": "#c00000", "strokeWidth": 2},
          "encoding": {
            "y": {"field": "p", "type": "quantitative", "scale": {"domain": [4.4727, 8.5]}},
            "y2": {"field": "p2"}
          }
        },
        {
          "data": {"values": [{"i": 139.4, "p": 7.69, "p2": 7.55}, {"i": 139.4, "p": 7.38, "p2": 7.24}, {"i": 139.4, "p": 7.07, "p2": 6.93}, {"i": 139.4, "p": 6.75, "p2": 6.61}, {"i": 139.4, "p": 6.44, "p2": 6.3}, {"i": 139.4, "p": 6.13, "p2": 5.99}, {"i": 139.4, "p": 5.82, "p2": 5.68}, {"i": 139.4, "p": 5.5, "p2": 5.36}, {"i": 139.4, "p": 5.19, "p2": 5.05}]},
          "mark": {"type": "rule", "color": "#c8c8c8", "strokeWidth": 4},
          "encoding": {
            "y": {"field": "p", "type": "quantitative", "scale": {"domain": [4.4727, 8.5]}},
            "y2": {"field": "p2"}
          }
        },
        {
          "data": {"values": [{"i": 139.05, "i2": 139.68, "top": 8.36, "bottom": 8.09}]},
          "mark": {"type": "rect", "fill": "#000000", "stroke": "#e8e800", "strokeWidth": 1},
          "encoding": {
            "x2": {"field": "i2"},
            "y": {"field": "top", "type": "quantitative", "scale": {"domain": [4.4727, 8.5]}},
            "y2": {"field": "bottom"}
          }
        },
        {
          "data": {"values": [{"i": 120.9, "i2": 139.75, "top": 4.985, "bottom": 4.131}]},
          "mark": {"type": "rect", "fill": "#000000"},
          "encoding": {
            "x2": {"field": "i2"},
            "y": {"field": "top", "type": "quantitative", "scale": {"domain": [4.4727, 8.5]}},
            "y2": {"field": "bottom"}
          }
        },
        {
          "data": {"values": [{"i": 130.1, "p": 4.66, "t": "乐淘公式网"}]},
          "mark": {"type": "text", "font": "Noto Sans CJK SC", "fontSize": 20, "fontWeight": "bold", "color": "#ffffff"},
          "encoding": {
            "y": {"field": "p", "type": "quantitative", "scale": {"domain": [4.4727, 8.5]}},
            "text": {"field": "t"}
          }
        },
        {
          "data": {"values": [{"i": 129.6, "p": 4.3, "t": "www.60lt.com"}]},
          "mark": {"type": "text", "font": "Liberation Serif", "fontSize": 14, "fontWeight": "bold", "color": "#ffffff"},
          "encoding": {
            "y": {"field": "p", "type": "quantitative", "scale": {"domain": [4.4727, 8.5]}},
            "text": {"field": "t"}
          }
        }
      ]
    },
    {
      "width": 1130,
      "height": 20,
      "encoding": {
        "x": {"field": "i", "type": "quantitative", "scale": {"domain": [-0.534, 139.75]}, "axis": null}
      },
      "layer": [
        {
          "data": {"values": [{"i": -0.4, "i2": 120.9, "v": 0.5}, {"i": -0.4, "i2": 120.9, "v": 16}]},
          "mark": {"type": "rule", "color": "#c00000", "strokeWidth": 1.5},
          "encoding": {
            "x2": {"field": "i2"},
            "y": {"field": "v", "type": "quantitative", "scale": {"domain": [20, 0]}, "axis": null}
          }
        },
        {
          "data": {"values": [{"i": 21}, {"i": 41}, {"i": 55}, {"i": 77}, {"i": 98}, {"i": 116}]},
          "mark": {"type": "rule", "color": "#c00000", "strokeWidth": 1},
          "encoding": {"y": {"datum": 0, "type": "quantitative", "scale": {"domain": [20, 0]}, "axis": null}, "y2": {"datum": 16}}
        },
        {
          "data": {"values": [{"i": 26}, {"i": 31}, {"i": 36}, {"i": 44}, {"i": 48}, {"i": 51}, {"i": 58}, {"i": 63}, {"i": 66}, {"i": 71}, {"i": 74}, {"i": 81}, {"i": 86}, {"i": 90}, {"i": 93}, {"i": 102}, {"i": 107}, {"i": 111}]},
          "mark": {"type": "rule", "color": "#c00000", "strokeWidth": 1},
          "encoding": {"y": {"datum": 0, "type": "quantitative", "scale": {"domain": [20, 0]}, "axis": null}, "y2": {"datum": 3}}
        },
        {
          "data": {"values": [{"i": 9.2}, {"i": 14.3}, {"i": 18}, {"i": 22}, {"i": 25.8}, {"i": 29.5}, {"i": 33.3}, {"i": 38.3}, {"i": 41.3}, {"i": 45.2}, {"i": 48.5}, {"i": 52.4}, {"i": 56.7}, {"i": 60}, {"i": 63}, {"i": 66.6}, {"i": 71}, {"i": 74.5}, {"i": 78}, {"i": 82.3}, {"i": 86.5}, {"i": 90}, {"i": 95}, {"i": 100}]},
          "mark": {"type": "rule", "color": "#c00000", "strokeWidth": 1},
          "encoding": {"y": {"datum": 16, "type": "quantitative", "scale": {"domain": [20, 0]}, "axis": null}, "y2": {"datum": 19.6}}
        },
        {
          "data": {"values": [{"i": 0.0, "t": "2025年"}, {"i": 21.2, "t": "1"}, {"i": 41.2, "t": "2"}, {"i": 55.2, "t": "3"}, {"i": 77.2, "t": "4"}, {"i": 98.2, "t": "5"}, {"i": 116.2, "t": "6"}]},
          "mark": {"type": "text", "align": "left", "font": "Noto Sans CJK SC", "fontSize": 12, "color": "#ff3232"},
          "encoding": {
            "y": {"datum": 8.5, "type": "quantitative", "scale": {"domain": [20, 0]}, "axis": null},
            "text": {"field": "t"}
          }
        }
      ]
    }
  ]
}
